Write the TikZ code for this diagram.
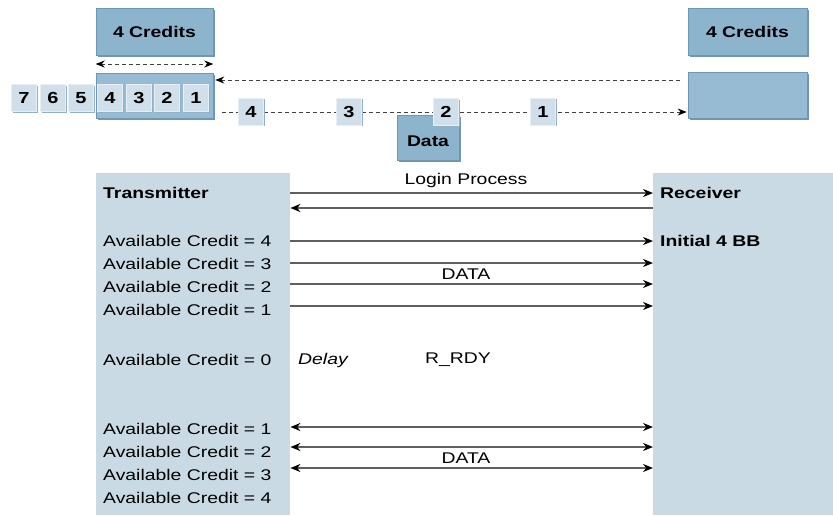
\documentclass[tikz,border=0pt]{standalone}
\usepackage{fontspec}
\setmainfont{Liberation Sans}[FakeStretch=1.25]
\usetikzlibrary{arrows.meta,shadows}

\definecolor{panelblue}{RGB}{201,218,229}
\definecolor{creditblue}{RGB}{141,180,205}
\definecolor{pktblue}{RGB}{208,223,233}
\definecolor{bufblue}{RGB}{150,187,211}
\definecolor{edgeblue}{RGB}{112,150,178}
\definecolor{linegray}{RGB}{95,95,95}

\tikzset{
  dtip/.tip={Stealth[length=9pt,width=7pt,color=black]},
  sigtip/.tip={Stealth[length=10pt,width=8pt,color=black]}
}

\begin{document}
\begin{tikzpicture}[x=1pt,y=-1pt,
  every node/.style={font=\fontsize{15.5}{17}\selectfont, inner sep=0pt},
  panel/.style={fill=panelblue, anchor=north west},
  credbox/.style={fill=creditblue, draw=edgeblue, line width=0.6pt,
    font=\bfseries\fontsize{15.5}{17}\selectfont,
    drop shadow={shadow xshift=1.5pt, shadow yshift=-1.5pt, fill=edgeblue, opacity=1}},
  bufbox/.style={fill=bufblue, draw=edgeblue, line width=0.6pt,
    drop shadow={shadow xshift=1.5pt, shadow yshift=-1.5pt, fill=edgeblue, opacity=1}},
  pkt/.style={fill=pktblue, draw=white!50!pktblue, line width=0.6pt,
    minimum width=25pt, minimum height=27pt,
    font=\bfseries\fontsize{16}{18}\selectfont,
    drop shadow={shadow xshift=1pt, shadow yshift=-1pt, fill=white!25!edgeblue, opacity=1}},
  lbl/.style={anchor=west},
  boldlbl/.style={anchor=west, font=\bfseries\fontsize{15.5}{17}\selectfont},
  dline/.style={draw=black!75, line width=1pt, dash pattern=on 4pt off 3pt},
  sig/.style={draw=linegray, line width=1.6pt}
]
\useasboundingbox (0,0) rectangle (833,515);

% ---- credit windows and buffers ----
\node[credbox, minimum width=117pt, minimum height=47pt] (lcred) at (154.5,31.5) {4 Credits};
\node[credbox, minimum width=119pt, minimum height=47pt] (rcred) at (747.5,31.5) {4 Credits};
\node[bufbox, minimum width=117pt, minimum height=45pt] (txq) at (154.5,95.5) {};
\node[bufbox, minimum width=119pt, minimum height=46pt] (rxq) at (747.5,95) {};

% window width marker
\coordinate (winrow) at (0,64);
\draw[dline, dtip-dtip] (lcred.west |- winrow) -- (lcred.east |- winrow);

% frames waiting to be sent
\node[pkt] (q7) at (24,98) {7};
\node[pkt] (q6) at (53,98) {6};
\node[pkt] (q5) at (81,98) {5};
\node[pkt] (q4) at (110,98) {4};
\node[pkt] (q3) at (139,98) {3};
\node[pkt] (q2) at (167,98) {2};
\node[pkt] (q1) at (196,98) {1};

% credit return and data path
\coordinate (ackrow) at (0,80);
\coordinate (datrow) at (0,112);
\draw[dline, dtip-] ([xshift=2pt]txq.east |- ackrow) -- ([xshift=-8pt]rxq.west |- ackrow);
\draw[dline, -dtip] ([xshift=9pt]txq.east |- datrow) -- ([xshift=-1pt]rxq.west |- datrow);

% frames in flight
\node[credbox, minimum width=62pt, minimum height=45pt] (data) at (428,137.5) {};
\node[font=\bfseries\fontsize{15.5}{17}\selectfont] (datalbl) at (428,141) {Data};
\node[pkt] (f4) at (251,111.5) {4};
\node[pkt] (f3) at (349,111.5) {3};
\node[pkt] (f2) at (446,112) {2};
\node[pkt] (f1) at (543,111.5) {1};

% ---- ports ----
\node[panel, minimum width=194pt, minimum height=342pt] (tx) at (96,173) {};
\node[panel, minimum width=180pt, minimum height=342pt] (rx) at (653,173) {};

\node[boldlbl] (txname) at (103,193) {Transmitter};
\node[boldlbl] (rxname) at (660,193) {Receiver};
\node[boldlbl] (rxbb) at (660,241) {Initial 4 BB};

\node[lbl] (c4a) at (103,241) {Available Credit = 4};
\node[lbl] (c3a) at (103,264) {Available Credit = 3};
\node[lbl] (c2a) at (103,287) {Available Credit = 2};
\node[lbl] (c1a) at (103,310) {Available Credit = 1};
\node[lbl] (c0) at (103,360) {Available Credit = 0};
\node[lbl] (c1b) at (103,429) {Available Credit = 1};
\node[lbl] (c2b) at (103,452) {Available Credit = 2};
\node[lbl] (c3b) at (103,475) {Available Credit = 3};
\node[lbl] (c4b) at (103,498) {Available Credit = 4};

\node (login) at (466,180) {Login Process};
\node (data1) at (466,274) {DATA};
\node[font=\itshape\fontsize{15.5}{17}\selectfont] (delay) at (323,360) {Delay};
\node (rrdy) at (458,360) {R\_RDY};
\node (data2) at (466,458) {DATA};

% ---- exchanges ----
\foreach \y/\n in {193/a,241/b,263/c,284/d,306/e}{
  \coordinate (row\n) at (0,\y);
  \draw[sig, -sigtip] (tx.east |- row\n) -- (rx.west |- row\n);
}
\coordinate (rowlog) at (0,208);
\draw[sig, sigtip-] (tx.east |- rowlog) -- (rx.west |- rowlog);
\foreach \y/\n in {427/f,447/g,468/h}{
  \coordinate (row\n) at (0,\y);
  \draw[sig, sigtip-sigtip] (tx.east |- row\n) -- (rx.west |- row\n);
}
\end{tikzpicture}
\end{document}
